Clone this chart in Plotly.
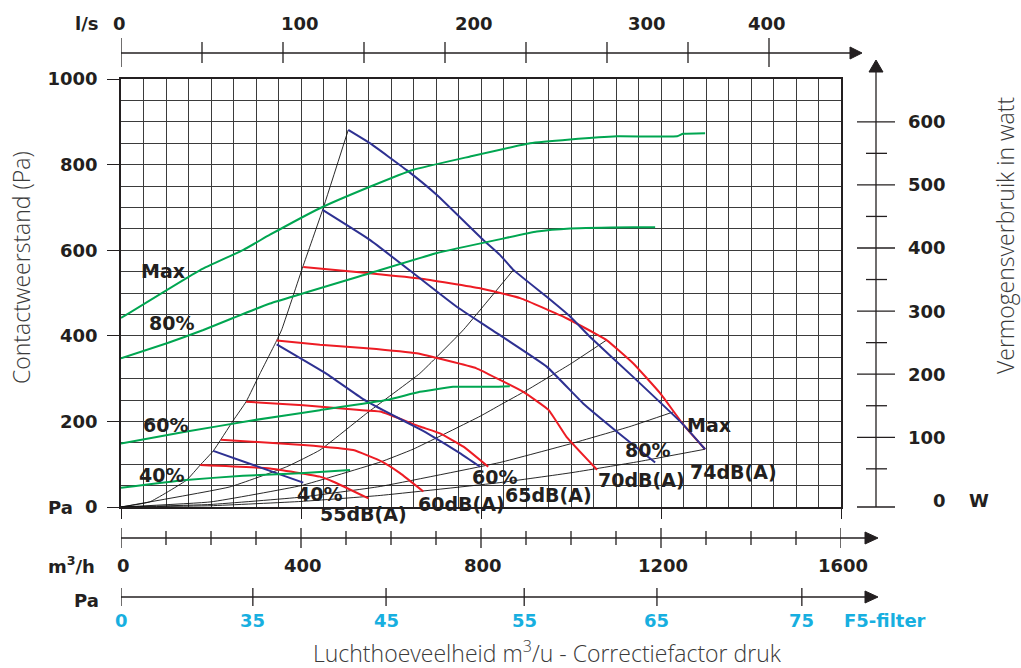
import plotly.graph_objects as go

# ---------------------------------------------------------------------------
# Scales
# ---------------------------------------------------------------------------
FLOW_RANGE = [0, 1600]          # m3/h across the grid
PRESSURE_RANGE = [0, 1000]      # Pa up the grid
POWER_RANGE = [-10.5, 667.8]    # W on the right-hand scale
LS_RANGE = [0, 1600 / 3.6]      # l/s across the top

# ---------------------------------------------------------------------------
# Fan curves (blue): pressure in Pa against airflow in m3/h
# ---------------------------------------------------------------------------
fan_max_q = [505, 553, 635, 702, 805, 842, 872, 946, 998, 1042, 1138, 1250, 1298]
fan_max_p = [881, 850, 787, 729, 624, 589, 554, 491, 445, 398, 304, 192, 135]
fan_80_q = [448, 553, 650, 746, 824, 946, 1027, 1102, 1187]
fan_80_p = [694, 624, 546, 468, 414, 328, 242, 176, 104]
fan_60_q = [346, 457, 538, 590, 664, 694, 753, 798]
fan_60_p = [380, 311, 252, 222, 182, 164, 126, 94]
fan_40_q = [205, 294, 405]
fan_40_p = [131, 98, 57]

# ---------------------------------------------------------------------------
# Power consumption (green): watt against airflow in m3/h
# ---------------------------------------------------------------------------
power_max_q = [0, 176, 272, 331, 442, 553, 650, 776, 909, 998, 1102, 1236, 1249, 1298]
power_max_w = [289, 365, 397, 421, 463, 497, 524, 545, 566, 572, 577, 577, 581, 582]
power_80_q = [0, 102, 183, 249, 331, 553, 702, 850, 924, 998, 1138, 1187]
power_80_w = [225, 249, 270, 289, 312, 360, 392, 415, 426, 431, 433, 433]
power_60_q = [0, 146, 294, 442, 590, 664, 738, 827, 864]
power_60_w = [90, 109, 127, 143, 159, 172, 180, 180, 181]
power_40_q = [0, 138, 271, 398, 509]
power_40_w = [20, 32, 39, 43, 48]

# ---------------------------------------------------------------------------
# Sound level curves (red): pressure in Pa against airflow in m3/h
# ---------------------------------------------------------------------------
sound_74_q = [405, 553, 664, 798, 887, 990, 1079, 1138, 1198, 1250, 1298]
sound_74_p = [561, 546, 534, 511, 488, 441, 390, 336, 266, 192, 135]
sound_70_q = [346, 442, 546, 657, 790, 842, 894, 950, 990, 1058]
sound_70_p = [389, 379, 371, 359, 324, 297, 269, 227, 164, 87]
sound_65_q = [278, 405, 524, 576, 664, 709, 761, 816]
sound_65_p = [246, 238, 227, 223, 188, 172, 141, 94]
sound_60_q = [222, 405, 516, 580, 620, 672]
sound_60_p = [157, 145, 133, 106, 79, 36]
sound_55_q = [176, 331, 442, 472, 550]
sound_55_p = [98, 90, 71, 59, 20]

# ---------------------------------------------------------------------------
# System resistance lines (thin black), all starting at the origin
# ---------------------------------------------------------------------------
sys_1_q = [0, 64, 146, 176, 205, 250, 278, 309, 346, 357, 404, 448, 505]
sys_1_p = [0, 12, 63, 98, 131, 203, 246, 312, 389, 414, 561, 694, 881]
sys_2_q = [0, 242, 368, 442, 546, 664, 702, 761, 872]
sys_2_p = [0, 47, 94, 133, 219, 312, 351, 414, 554]
sys_3_q = [0, 200, 400, 576, 649, 798, 842, 902, 1000, 1079]
sys_3_p = [0, 12, 50, 105, 135, 212, 238, 273, 335, 390]
sys_4_q = [0, 200, 400, 576, 842, 1000, 1131, 1227]
sys_4_p = [0, 6, 23, 48, 104, 148, 188, 222]
sys_5_q = [0, 200, 400, 576, 842, 1000, 1150, 1298]
sys_5_p = [0, 3, 13, 27, 57, 80, 106, 135]

# ---------------------------------------------------------------------------
# Axis ticks and labels
# ---------------------------------------------------------------------------
pressure_ticks = [0, 200, 400, 600, 800, 1000]
flow_major = [0, 400, 800, 1200, 1600]
flow_minor = list(range(0, 1601, 100))
ls_ticks = list(range(0, 401, 50))
ls_labels = [0, 100, 200, 300, 400]
power_ticks = list(range(50, 601, 50))
power_labels = [0, 100, 200, 300, 400, 500, 600]
filter_pa = [0, 35, 45, 55, 65, 75]
filter_at_flow = [0, 293, 589, 896, 1191, 1513]

# ---------------------------------------------------------------------------
# Styling
# ---------------------------------------------------------------------------
BLUE = "#2e3192"
RED = "#ed1c24"
GREEN = "#00a651"
INK = "#231f20"
GRID = "#3b3b3b"
CYAN = "#17afe0"
TITLE_GREY = "#3a3a3a"

PLOT_L, PLOT_R, PLOT_T, PLOT_B = 121, 841, 79, 507
W_FIG, H_FIG = 1021, 668
PX_PER_FLOW = (PLOT_R - PLOT_L) / (FLOW_RANGE[1] - FLOW_RANGE[0])
PX_PER_PA = (PLOT_B - PLOT_T) / (PRESSURE_RANGE[1] - PRESSURE_RANGE[0])


def ppx(px):
    return (px - PLOT_L) / (PLOT_R - PLOT_L)


def ppy(py):
    return (PLOT_B - py) / (PLOT_B - PLOT_T)


LABEL_FONT = dict(family="DejaVu Sans", size=19, color=INK, weight="bold")
TICK_FONT = dict(family="DejaVu Sans", size=18, color=INK, weight="bold")
CYAN_FONT = dict(family="DejaVu Sans", size=18, color=CYAN, weight="bold")
TITLE_FONT = dict(family="Open Sans", size=23, color=TITLE_GREY, weight=300)

fig = go.Figure()


def add_curve(q, v, color, width=2.0, yaxis="y"):
    fig.add_trace(go.Scatter(
        x=q, y=v, mode="lines", yaxis=yaxis,
        line=dict(color=color, width=width, shape="spline", smoothing=0.35),
        hoverinfo="skip", showlegend=False,
    ))


for q, p in [(sys_1_q, sys_1_p), (sys_2_q, sys_2_p), (sys_3_q, sys_3_p),
             (sys_4_q, sys_4_p), (sys_5_q, sys_5_p)]:
    add_curve(q, p, "#111111", width=0.9)

for q, w in [(power_max_q, power_max_w), (power_80_q, power_80_w),
             (power_60_q, power_60_w), (power_40_q, power_40_w)]:
    add_curve(q, w, GREEN, yaxis="y2")

for q, p in [(sound_74_q, sound_74_p), (sound_70_q, sound_70_p),
             (sound_65_q, sound_65_p), (sound_60_q, sound_60_p),
             (sound_55_q, sound_55_p)]:
    add_curve(q, p, RED)

for q, p in [(fan_max_q, fan_max_p), (fan_80_q, fan_80_p),
             (fan_60_q, fan_60_p), (fan_40_q, fan_40_p)]:
    add_curve(q, p, BLUE)

shapes = []
annotations = []


def line_paper(px0, py0, px1, py1, width=1.3):
    shapes.append(dict(type="line", xref="paper", yref="paper",
                       x0=ppx(px0), y0=ppy(py0), x1=ppx(px1), y1=ppy(py1),
                       line=dict(color=INK, width=width), layer="above"))


def tri(points):
    d = "M " + " L ".join(f"{ppx(x)},{ppy(y)}" for x, y in points) + " Z"
    shapes.append(dict(type="path", xref="paper", yref="paper", path=d,
                       fillcolor=INK, line=dict(color=INK, width=1), layer="above"))


def text(t, x, y, xref="paper", yref="paper", font=TICK_FONT, xanchor="center", **kw):
    annotations.append(dict(text=t, x=x, y=y, xref=xref, yref=yref,
                            xanchor=xanchor, yanchor="middle",
                            showarrow=False, font=font, **kw))


# --- top l/s scale ---------------------------------------------------------
LS_Y = 53
line_paper(PLOT_L, LS_Y, 851, LS_Y)
tri([(850, 47), (862, LS_Y), (850, 59)])
for v in ls_ticks:
    long_tick = v in (0, 400)
    y0, y1 = (38, 67) if long_tick else (42, 63)
    shapes.append(dict(type="line", xref="x2", yref="paper", x0=v, x1=v,
                       y0=ppy(y0), y1=ppy(y1), line=dict(color=INK, width=1.3)))
ls_shift = {0: -2, 100: 17, 200: 29, 300: 40, 400: -2}
for v in ls_labels:
    text(str(v), v, ppy(24), xref="x2", xshift=ls_shift[v])
text("l/s", ppx(86), ppy(24))

# --- right-hand power scale ------------------------------------------------
PW_X = 876
line_paper(PW_X, PLOT_B, PW_X, 71)
tri([(869, 72), (PW_X, 60), (883, 72)])
line_paper(857, PLOT_B, 895, PLOT_B)
for v in power_ticks:
    x0, x1 = (857, 895) if v % 100 == 0 else (866, 887)
    shapes.append(dict(type="line", xref="paper", yref="y2",
                       x0=ppx(x0), x1=ppx(x1), y0=v, y1=v,
                       line=dict(color=INK, width=1.3)))
for v in power_labels:
    text(str(v), ppx(948), v, yref="y2", xanchor="right")
text("W", ppx(979), 0, yref="y2")

# --- bottom m3/h scale -----------------------------------------------------
FLOW_Y = 538
line_paper(PLOT_L, FLOW_Y, 867, FLOW_Y)
tri([(865, 532), (878, FLOW_Y), (865, 544)])
for v in flow_minor:
    y0, y1 = (528, 548) if v in flow_major else (531, 545)
    shapes.append(dict(type="line", xref="x", yref="paper", x0=v, x1=v,
                       y0=ppy(y0), y1=ppy(y1), line=dict(color=INK, width=1.3)))
for v in flow_major:
    text(str(v), v, ppy(565), xref="x", xshift=2)
text("m<sup>3</sup>/h", ppx(71), ppy(565))

# --- F5 filter correction scale ----------------------------------------------
FILT_Y = 597
line_paper(PLOT_L, FILT_Y, 867, FILT_Y)
tri([(865, 591), (878, FILT_Y), (865, 603)])
for q in filter_at_flow:
    shapes.append(dict(type="line", xref="x", yref="paper", x0=q, x1=q,
                       y0=ppy(588), y1=ppy(606), line=dict(color=INK, width=1.3)))
for q, pa in zip(filter_at_flow, filter_pa):
    text(str(pa), q, ppy(621), xref="x", font=CYAN_FONT)
text("F5-filter", ppx(885), ppy(621), font=CYAN_FONT)
text("Pa", ppx(86), ppy(600))
text("Pa", ppx(60), ppy(507))

# --- axis titles -------------------------------------------------------------
text("Contactweerstand (Pa)", ppx(21), ppy(268), font=TITLE_FONT, textangle=-90)
text("Vermogensverbruik in watt", ppx(1005), ppy(236), font=TITLE_FONT, textangle=-90)
text("Luchthoeveelheid m<sup>3</sup>/u - Correctiefactor druk", ppx(547), ppy(652),
     font=TITLE_FONT)

# --- curve labels, each on a white patch that hides the grid -----------------
curve_labels = [
    ("Max", 93, 551, 46), ("80%", 113, 429, 50), ("60%", 98, 192, 50),
    ("40%", 91, 75, 50), ("40%", 442, 30, 50), ("60%", 831, 70, 50),
    ("80%", 1169, 133, 50), ("Max", 1307, 192, 46),
    ("55dB(A)", 538, -16, 90), ("60dB(A)", 756, 7, 90), ("65dB(A)", 951, 28, 90),
    ("70dB(A)", 1156, 63, 90), ("74dB(A)", 1362, 82, 90),
]
for t, q, p, w in curve_labels:
    cx = PLOT_L + q * PX_PER_FLOW
    cy = PLOT_B - p * PX_PER_PA
    shapes.append(dict(type="rect", xref="paper", yref="paper",
                       x0=ppx(cx - w / 2), x1=ppx(cx + w / 2),
                       y0=ppy(cy + 9), y1=ppy(cy - 9),
                       fillcolor="white", line=dict(width=0), layer="between"))
    text(t, ppx(cx), ppy(cy), font=LABEL_FONT)

fig.update_layout(
    width=W_FIG, height=H_FIG,
    margin=dict(l=PLOT_L, r=W_FIG - PLOT_R, t=PLOT_T, b=H_FIG - PLOT_B, pad=0),
    paper_bgcolor="white", plot_bgcolor="white",
    showlegend=False,
    xaxis=dict(range=FLOW_RANGE, tickvals=flow_major, showticklabels=False,
               ticks="outside", ticklen=10, tickwidth=1.3, tickcolor=INK,
               showgrid=True, gridcolor=GRID, gridwidth=1,
               minor=dict(dtick=50, showgrid=True, gridcolor=GRID, gridwidth=1),
               showline=True, linecolor=INK, linewidth=1.5, mirror=True,
               zeroline=False, fixedrange=True),
    yaxis=dict(range=PRESSURE_RANGE, tickvals=pressure_ticks,
               ticktext=[str(v) for v in pressure_ticks],
               ticks="outside", ticklen=12, tickwidth=1.3, tickcolor=INK,
               tickfont=TICK_FONT, ticklabelstandoff=6,
               showgrid=True, gridcolor=GRID, gridwidth=1,
               minor=dict(dtick=50, showgrid=True, gridcolor=GRID, gridwidth=1),
               showline=True, linecolor=INK, linewidth=1.5, mirror=True,
               zeroline=False, fixedrange=True),
    xaxis2=dict(range=LS_RANGE, overlaying="x", anchor="y", visible=False),
    yaxis2=dict(range=POWER_RANGE, overlaying="y", anchor="x", visible=False),
    shapes=shapes,
    annotations=annotations,
)

fig.write_html("out.html", config={"displayModeBar": False})
